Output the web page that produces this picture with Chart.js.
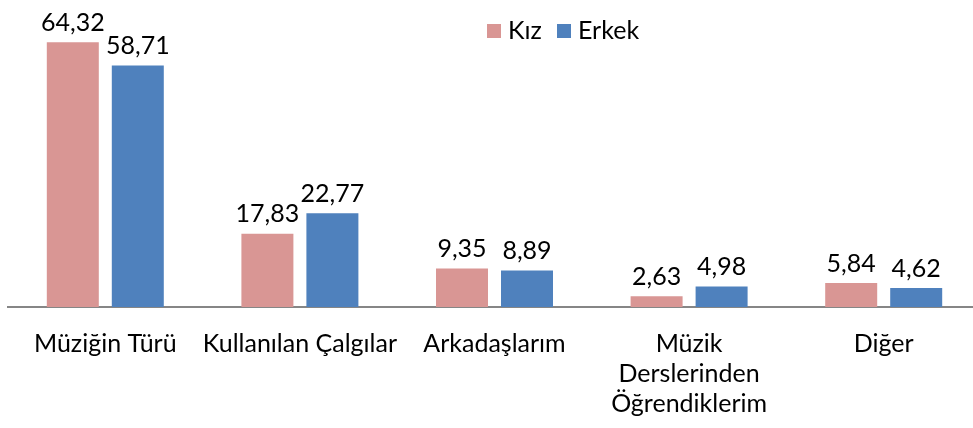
<!DOCTYPE html>
<html>
<head>
<meta charset="utf-8">
<script src="https://cdn.jsdelivr.net/npm/chart.js@4"></script>
<style>
  html, body { margin: 0; padding: 0; background: #fff; overflow: hidden; }
  #wrap { width: 973px; height: 428px; overflow: hidden; }
</style>
</head>
<body>
<div id="wrap"><canvas id="myChart" width="981" height="428"></canvas></div>
<script>
"use strict"

const categories = [
  "Müziğin Türü",
  "Kullanılan Çalgılar",
  "Arkadaşlarım",
  ["Müzik", "Derslerinden", "Öğrendiklerim"],
  "Diğer"
];
const seriesNames = ["Kız", "Erkek"];
const kizValues = [64.32, 17.83, 9.35, 2.63, 5.84];
const erkekValues = [58.71, 22.77, 8.89, 4.98, 4.62];

const pinkColor = '#D99694';
const blueColor = '#4F81BD';
const fontFamily = 'Lato, "Open Sans", sans-serif';

function formatValue(v) {
  return v.toFixed(2).replace('.', ',');
}

// value labels above each bar
const valueLabels = {
  id: 'valueLabels',
  afterDatasetsDraw(chart) {
    const ctx = chart.ctx;
    ctx.save();
    ctx.font = '25px ' + fontFamily;
    ctx.fillStyle = '#000';
    ctx.textAlign = 'center';
    ctx.textBaseline = 'bottom';
    chart.data.datasets.forEach((ds, i) => {
      chart.getDatasetMeta(i).data.forEach((bar, j) => {
        ctx.fillText(formatValue(ds.data[j]), bar.x, bar.y - 7);
      });
    });
    ctx.restore();
  }
};

// legend placed like the original, inside the plot
const customLegend = {
  id: 'customLegend',
  afterDraw(chart) {
    const ctx = chart.ctx;
    ctx.save();
    ctx.font = '25px ' + fontFamily;
    ctx.textBaseline = 'middle';
    let x = 487;
    const y = 31;
    chart.data.datasets.forEach(ds => {
      ctx.fillStyle = ds.backgroundColor;
      ctx.fillRect(x, y - 7, 14, 14);
      ctx.fillStyle = '#000';
      ctx.fillText(ds.label, x + 21, y);
      x = 557;
    });
    ctx.restore();
  }
};

// plot runs slightly past the right edge, as in the original (canvas is cropped)
const ctx = document.getElementById('myChart').getContext('2d');
const myChart = new Chart(ctx, {
  type: 'bar',
  data: {
    labels: categories,
    datasets: [
      { label: seriesNames[0], data: kizValues, backgroundColor: pinkColor },
      { label: seriesNames[1], data: erkekValues, backgroundColor: blueColor }
    ]
  },
  options: {
    responsive: false,
    animation: false,
    categoryPercentage: 0.668,
    barPercentage: 0.8,
    layout: { padding: { left: 8, right: 0, top: 19, bottom: 0 } },
    plugins: {
      legend: { display: false },
      tooltip: { enabled: false }
    },
    scales: {
      x: {
        grid: { display: false },
        border: { display: true, color: '#868686', width: 2 },
        ticks: {
          color: '#000',
          font: { family: fontFamily, size: 25 },
          padding: 14,
          maxRotation: 0,
          autoSkip: false
        },
        afterFit(scale) { scale.height = 121; }
      },
      y: {
        display: false,
        min: 0,
        max: 70
      }
    }
  },
  plugins: [valueLabels, customLegend]
});
</script>
</body>
</html>
